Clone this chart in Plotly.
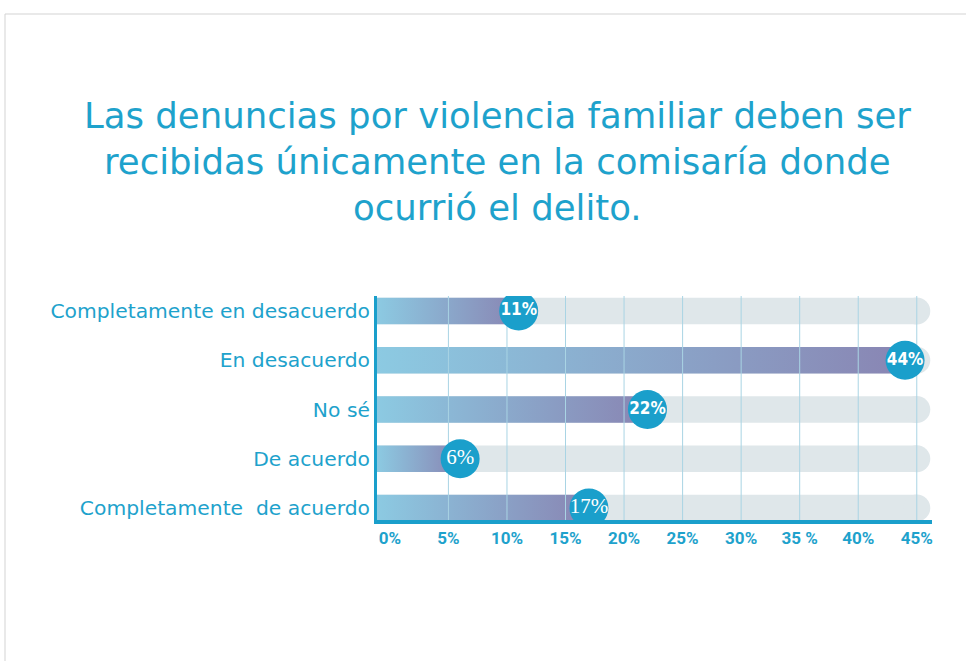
import plotly.graph_objects as go

# ---- data ----
categories = ["Completamente en desacuerdo", "En desacuerdo", "No sé",
              "De acuerdo", "Completamente  de acuerdo"]
values = [11, 44, 22, 6, 17]
value_labels = ["11%", "44%", "22%", "6%", "17%"]
label_fonts = ["Liberation Sans Narrow, DejaVu Sans Condensed, Roboto",
               "Liberation Sans Narrow, DejaVu Sans Condensed, Roboto",
               "Liberation Sans Narrow, DejaVu Sans Condensed, Roboto",
               "Liberation Serif, serif",
               "Liberation Serif, serif"]
label_weights = ["bold", "bold", "bold", "normal", "normal"]
tick_values = [0, 5, 10, 15, 20, 25, 30, 35, 40, 45]
tick_labels = ["0%", "5%", "10%", "15%", "20%", "25%", "30%", "35 %", "40%", "45%"]
title_lines = ["Las denuncias por violencia familiar deben ser",
               "recibidas únicamente en la comisaría donde",
               "ocurrió el delito."]

# ---- style / layout ----
W, H = 966, 661
ML, MR, MT, MB = 377, 34, 296, 141
X_MIN, X_MAX = -1.1, 46.3
TRACK_END = 45
Y_MIN, Y_MAX = -0.2437, 4.305
HALF = 0.27
TEAL = "#1a9fcb"
TEXT_TEAL = "#1ea2cc"
TRACK = "#dfe7ea"
GRID = "#a9d4e4"

plot_w = W - ML - MR
plot_h = H - MT - MB


def px_to_paper_x(px):
    return (px - ML) / plot_w


def px_to_paper_y(py):
    return (H - MB - py) / plot_h


n = len(categories)
ypos = [n - 1 - i for i in range(n)]

fig = go.Figure()

# background tracks
for y in ypos:
    fig.add_trace(go.Scatter(
        x=[X_MIN, TRACK_END, TRACK_END, X_MIN, X_MIN],
        y=[y - HALF, y - HALF, y + HALF, y + HALF, y - HALF],
        fill="toself", fillcolor=TRACK, mode="lines", line=dict(width=0),
        hoverinfo="skip", showlegend=False))
# rounded ends of tracks
fig.add_trace(go.Scatter(
    x=[TRACK_END] * n, y=ypos, mode="markers",
    marker=dict(size=27, color=TRACK, line=dict(width=0)),
    hoverinfo="skip", showlegend=False))

# gradient value bars
for y, v in zip(ypos, values):
    fig.add_trace(go.Scatter(
        x=[X_MIN, v, v, X_MIN, X_MIN],
        y=[y - HALF, y - HALF, y + HALF, y + HALF, y - HALF],
        fill="toself", mode="lines", line=dict(width=0),
        fillgradient=dict(type="horizontal",
                          colorscale=[[0, "#8ccae2"], [1, "#8985b3"]]),
        hoverinfo="skip", showlegend=False))

# grid lines above bars (below circles)
gx, gy = [], []
for t in tick_values[1:]:
    gx += [t, t, None]
    gy += [Y_MIN, Y_MAX, None]
fig.add_trace(go.Scatter(x=gx, y=gy, mode="lines",
                         line=dict(color=GRID, width=1),
                         hoverinfo="skip", showlegend=False))

# circles with value labels
fig.add_trace(go.Scatter(
    x=values, y=ypos, mode="markers+text",
    marker=dict(size=39, color=TEAL, line=dict(width=0)),
    text=value_labels, textposition="middle center",
    textfont=dict(color="white", size=[17, 17, 17, 21, 21],
                  family=label_fonts, weight=label_weights),
    hoverinfo="skip", showlegend=False))

fig.update_layout(
    width=W, height=H,
    margin=dict(l=ML, r=MR, t=MT, b=MB),
    paper_bgcolor="white", plot_bgcolor="white",
    xaxis=dict(range=[X_MIN, X_MAX], tickvals=tick_values, ticktext=tick_labels,
               showgrid=False, zeroline=False, showline=True,
               linecolor=TEAL, linewidth=4, ticks="",
               tickfont=dict(family="Roboto", size=17, color=TEXT_TEAL, weight="bold"),
               fixedrange=True),
    yaxis=dict(range=[Y_MIN, Y_MAX], tickvals=ypos, ticktext=categories,
               showgrid=False, zeroline=False, showline=True,
               linecolor=TEAL, linewidth=3, ticks="",
               tickfont=dict(family="DejaVu Sans", size=20.3, color=TEXT_TEAL),
               fixedrange=True),
    shapes=[dict(type="rect", xref="paper", yref="paper",
                 x0=px_to_paper_x(5), x1=px_to_paper_x(990),
                 y0=px_to_paper_y(14), y1=px_to_paper_y(700),
                 line=dict(color="#d3d3d3", width=1), fillcolor="rgba(0,0,0,0)",
                 layer="below")],
)

for line, py in zip(title_lines, [115, 161, 207]):
    fig.add_annotation(text=line, xref="paper", yref="paper",
                       x=px_to_paper_x(497), y=px_to_paper_y(py),
                       xanchor="center", yanchor="middle", showarrow=False,
                       font=dict(family="DejaVu Sans", size=35.5, color=TEXT_TEAL))

fig.write_html("out.html", config={"displayModeBar": False})
